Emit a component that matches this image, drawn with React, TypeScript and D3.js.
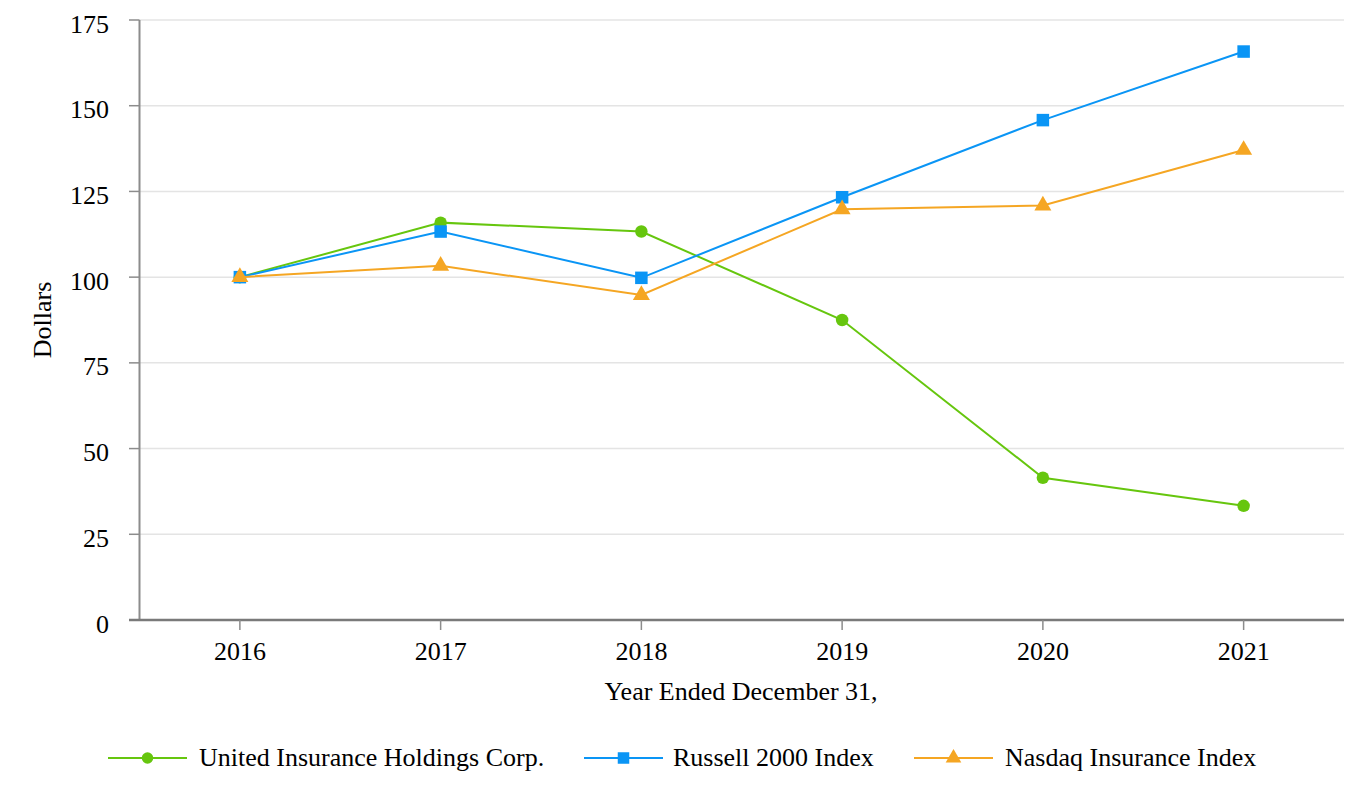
import React from "react";
import * as d3 from "d3";

const years = ["2016", "2017", "2018", "2019", "2020", "2021"];
const uihc = [100, 115.9, 113.3, 87.5, 41.5, 33.3];
const russell = [100, 113.3, 99.8, 123.3, 145.8, 165.8];
const nasdaqIns = [100, 103.3, 94.8, 119.8, 120.9, 137.1];
const yTicks = [0, 25, 50, 75, 100, 125, 150, 175];

const seriesNames = ["United Insurance Holdings Corp.", "Russell 2000 Index", "Nasdaq Insurance Index"];
const seriesColors = ["#66c60e", "#0a95f5", "#f5a623"];
const seriesShapes = ["circle", "square", "triangle"];
const seriesValues = [uihc, russell, nasdaqIns];

const W = 1364;
const H = 800;
const left = 139.5;
const right = 1344;
const top = 20;
const bottom = 620;
const FONT = "'Liberation Serif', 'Times New Roman', serif";
const FS = 26;

function Marker({ shape, x, y, color, size }: { shape: string; x: number; y: number; color: string; size: number }) {
  if (shape === "circle") return <circle cx={x} cy={y} r={size / 2} fill={color} />;
  if (shape === "square") return <rect x={x - size / 2} y={y - size / 2} width={size} height={size} fill={color} />;
  const sym = d3.symbol(d3.symbolTriangle, size * size * 0.8)();
  return <path d={sym || ""} transform={`translate(${x},${y})`} fill={color} />;
}

export default function App() {
  const x = d3.scalePoint<string>().domain(years).range([left, right]).padding(0.5);
  const y = d3.scaleLinear().domain([0, 175]).range([bottom, top]);
  const line = d3
    .line<number>()
    .x((_, i) => x(years[i]) as number)
    .y((d) => y(d));

  const legendItems = [
    { lineX: 108, textX: 199 },
    { lineX: 584, textX: 673 },
    { lineX: 914, textX: 1005 },
  ];
  const legendY = 758;

  return (
    <svg
      width={W}
      height={H}
      style={{ position: "absolute", left: 0, top: 0, background: "#fff" }}
      fontFamily={FONT}
    >
      {yTicks.slice(1).map((t) => (
        <line key={t} x1={left} x2={right} y1={y(t)} y2={y(t)} stroke="#e4e4e4" strokeWidth={1.5} />
      ))}
      {yTicks.map((t) => (
        <g key={"yt" + t}>
          <line x1={129} x2={left} y1={y(t)} y2={y(t)} stroke="#8c8c8c" strokeWidth={1.5} />
          <text x={109} y={y(t) + 12.5} textAnchor="end" fontSize={FS} fill="#000">
            {t}
          </text>
        </g>
      ))}
      <line x1={left} x2={left} y1={top} y2={bottom} stroke="#8c8c8c" strokeWidth={2} />
      <line x1={129} x2={right} y1={bottom} y2={bottom} stroke="#7a7a7a" strokeWidth={2.5} />
      {years.map((yr) => (
        <g key={yr}>
          <line x1={x(yr)} x2={x(yr)} y1={bottom} y2={630} stroke="#8c8c8c" strokeWidth={1.5} />
          <text x={x(yr)} y={660} textAnchor="middle" fontSize={FS} fill="#000">
            {yr}
          </text>
        </g>
      ))}
      <text x={741} y={700} textAnchor="middle" fontSize={FS} fill="#000">
        Year Ended December 31,
      </text>
      <text
        transform={`translate(51,${(top + bottom) / 2}) rotate(-90)`}
        textAnchor="middle"
        fontSize={FS}
        fill="#000"
      >
        Dollars
      </text>
      {seriesValues.map((vals, si) => (
        <g key={si}>
          <path d={line(vals) || ""} fill="none" stroke={seriesColors[si]} strokeWidth={2} />
          {vals.map((v, i) => (
            <Marker key={i} shape={seriesShapes[si]} x={x(years[i]) as number} y={y(v)} color={seriesColors[si]} size={12.5} />
          ))}
        </g>
      ))}
      {seriesNames.map((name, si) => (
        <g key={name}>
          <line
            x1={legendItems[si].lineX}
            x2={legendItems[si].lineX + 79}
            y1={legendY}
            y2={legendY}
            stroke={seriesColors[si]}
            strokeWidth={2}
          />
          <Marker shape={seriesShapes[si]} x={legendItems[si].lineX + 39.5} y={legendY} color={seriesColors[si]} size={11.5} />
          <text x={legendItems[si].textX} y={766} fontSize={FS} fill="#000">
            {name}
          </text>
        </g>
      ))}
    </svg>
  );
}
